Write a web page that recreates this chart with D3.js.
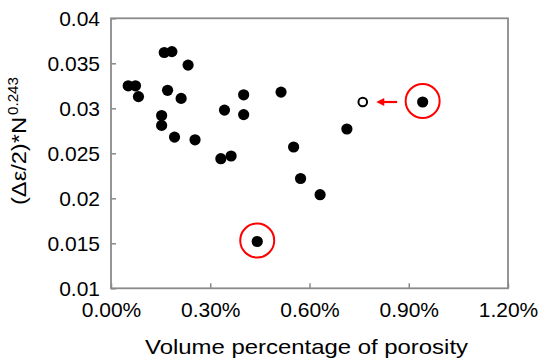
<!DOCTYPE html>
<html><head><meta charset="utf-8">
<script src="https://cdn.jsdelivr.net/npm/d3@7"></script>
<style>body{margin:0;background:#fff}svg{display:block}text{font-family:"Liberation Sans",Arial,sans-serif;fill:#000}</style>
</head><body><svg id="c" width="541" height="362"></svg>
<script>
// porosity volume percentage (%)
const porosity = [0.052,0.074,0.083,0.161,0.184,0.233,0.171,0.212,0.153,0.153,0.192,0.254,0.343,0.401,0.401,0.514,0.332,0.363,0.552,0.573,0.632,0.713,0.942,0.442];
// (Δε/2)*N^0.243
const strain = [0.0325,0.0325,0.0313,0.0362,0.0363,0.0348,0.0320,0.0311,0.0292,0.0281,0.0268,0.0265,0.0298,0.0315,0.0293,0.0318,0.0244,0.0247,0.0257,0.0222,0.0204,0.0277,0.0307,0.0152];
// circled points (indices into the arrays above)
const circled = [22, 23];
// open marker: shifted position of the circled outlier
const openPoint = [0.761, 0.0307];
const xTicks = [0, 0.3, 0.6, 0.9, 1.2];
const yTicks = [0.01, 0.015, 0.02, 0.025, 0.03, 0.035, 0.04];

const svg = d3.select("#c");
const m = {l:111, t:18.3, r:33, b:73.7};
const W = 541 - m.l - m.r, H = 362 - m.t - m.b;
const x = d3.scaleLinear().domain([0, 1.2]).range([0, W]);
const y = d3.scaleLinear().domain([0.01, 0.04]).range([H, 0]);
const g = svg.append("g").attr("transform", `translate(${m.l},${m.t})`);

const frameColor = "#8a8a8a";
const xa = g.append("g").attr("transform", `translate(0,${H})`)
  .call(d3.axisBottom(x).tickValues(xTicks).tickFormat(d => d.toFixed(2) + "%").tickSizeInner(-5).tickSizeOuter(0).tickPadding(14));
const ya = g.append("g")
  .call(d3.axisLeft(y).tickValues(yTicks).tickFormat(d => String(+d.toFixed(3))).tickSizeInner(-5).tickSizeOuter(0).tickPadding(11));
[xa, ya].forEach(a => {
  a.select(".domain").remove();
  a.selectAll("line").attr("stroke", frameColor).attr("stroke-width", 1.5);
  a.selectAll("text").style("font-size", "21px").style("font-family", '"Liberation Sans",Arial,sans-serif');
});
g.append("rect").attr("width", W).attr("height", H).attr("fill", "none").attr("stroke", frameColor).attr("stroke-width", 1.8);

g.selectAll("circle.pt").data(porosity.map((p, i) => [p, strain[i]])).join("circle")
  .attr("class", "pt").attr("cx", d => x(d[0])).attr("cy", d => y(d[1])).attr("r", 5.6).attr("fill", "#000");

g.append("circle").attr("cx", x(openPoint[0])).attr("cy", y(openPoint[1])).attr("r", 4.3)
  .attr("fill", "#fff").attr("stroke", "#000").attr("stroke-width", 2);

g.selectAll("circle.ring").data(circled).join("circle").attr("class", "ring")
  .attr("cx", i => x(porosity[i])).attr("cy", i => y(strain[i]) - 1).attr("r", 17)
  .attr("fill", "none").attr("stroke", "#f00").attr("stroke-width", 2);

// arrow from circled outlier to open marker
const ax0 = x(porosity[22]) - 25.5, ax1 = x(openPoint[0]) + 13.5, ay = y(openPoint[1]);
g.append("line").attr("x1", ax0).attr("x2", ax1 + 5).attr("y1", ay).attr("y2", ay).attr("stroke", "#f00").attr("stroke-width", 2.2);
g.append("path").attr("d", `M${ax1},${ay} L${ax1 + 8},${ay - 4} L${ax1 + 8},${ay + 4} Z`).attr("fill", "#f00");

svg.append("text").attr("x", 145).attr("y", 354).style("font-size", "21px")
  .attr("textLength", 323).attr("lengthAdjust", "spacingAndGlyphs")
  .text("Volume percentage of porosity");
const yl = svg.append("text").attr("transform", `translate(26,205) rotate(-90)`).style("font-size", "20px");
yl.append("tspan").attr("textLength", 88).attr("lengthAdjust", "spacingAndGlyphs").text("(Δε/2)*N");
yl.append("tspan").attr("dx", 2).attr("dy", -8).style("font-size", "15px")
  .attr("textLength", 38).attr("lengthAdjust", "spacingAndGlyphs").text("0.243");
</script></body></html>
